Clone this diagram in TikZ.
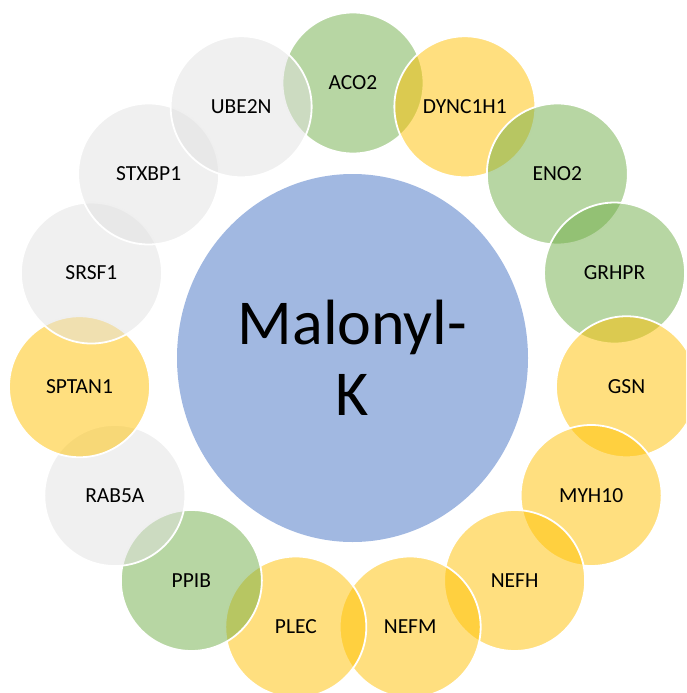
\documentclass[tikz,border=0pt]{standalone}
\usepackage{fontspec}
\setmainfont{Carlito}
\usetikzlibrary{shapes.geometric}

\definecolor{hubblue}{HTML}{4472C4}
\definecolor{leafgreen}{HTML}{70AD47}
\definecolor{leafgold}{HTML}{FFC000}
\definecolor{leafgray}{HTML}{E1E1E1}

\tikzset{
  leaf/.style={circle, minimum size=141pt, inner sep=0pt, draw=white,
    line width=1.8pt, fill opacity=0.5, text opacity=1,
    font=\fontsize{21.5}{26}\selectfont},
  hub/.style={ellipse, minimum width=351pt, minimum height=368pt,
    inner sep=0pt, fill=hubblue, fill opacity=0.5, text opacity=1,
    align=center, font=\fontsize{64}{71}\selectfont}
}

\begin{document}
\begin{tikzpicture}[x=1pt, y=-1pt]
  \useasboundingbox (0,0) rectangle (686,693);
  \clip (0,0) rectangle (686,693);

  % central protein modification
  \node[hub] (hub) at (352.5,358) {Malonyl-\\K};

  % ring of modified proteins, clockwise from the top
  \foreach \lab/\col [count=\i from 0] in {
      ACO2/leafgreen, DYNC1H1/leafgold, ENO2/leafgreen, GRHPR/leafgreen,
      GSN/leafgold, MYH10/leafgold, NEFH/leafgold, NEFM/leafgold,
      PLEC/leafgold, PPIB/leafgreen, RAB5A/leafgray, SPTAN1/leafgold,
      SRSF1/leafgray, STXBP1/leafgray, UBE2N/leafgray}
  {
    \node[leaf, fill=\col] (p\i) at ({353+275*sin(24*\i)}, {358-275*cos(24*\i)}) {\lab};
  }
\end{tikzpicture}
\end{document}
